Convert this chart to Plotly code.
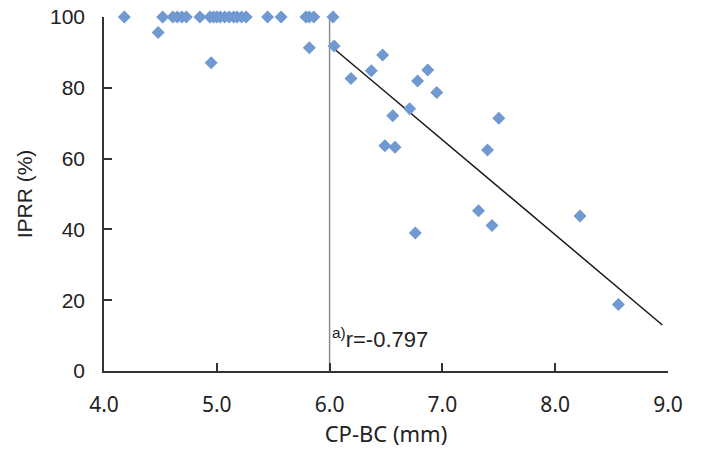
import plotly.graph_objects as go

# Data
cpbc = [4.18, 4.52, 4.61, 4.65, 4.69, 4.73, 4.85, 4.94, 4.97, 5.00, 5.03, 5.07,
        5.11, 5.15, 5.18, 5.22, 5.26, 5.45, 5.57, 5.79, 5.82, 5.86, 6.03,
        4.48, 4.95, 5.82, 6.04, 6.19, 6.47, 6.37, 6.87, 6.78, 6.95, 6.71,
        6.56, 7.50, 6.49, 6.58, 7.40, 7.32, 7.44, 6.76, 8.22, 8.56]
iprr = [100] * 23 + [95.6, 87.1, 91.3, 91.8, 82.6, 89.3, 84.8, 85.0, 81.9, 78.7, 74.1,
                     72.1, 71.4, 63.6, 63.2, 62.4, 45.3, 41.1, 39.0, 43.8, 18.8]
trend_x = [6.0, 8.95]
trend_y = [92.1, 13.0]
cutoff_x = [6.0, 6.0]
cutoff_y = [0, 100]
x_ticks = [4, 5, 6, 7, 8, 9]
x_tick_labels = ["4.0", "5.0", "6.0", "7.0", "8.0", "9.0"]
y_ticks = [0, 20, 40, 60, 80, 100]
annotation_text = "<sup>a)</sup>r=-0.797"

fig = go.Figure()
fig.add_trace(go.Scatter(x=cutoff_x, y=cutoff_y, mode="lines",
                         line=dict(color="#8c8c8c", width=1.5), hoverinfo="skip",
                         cliponaxis=False))
fig.add_trace(go.Scatter(x=trend_x, y=trend_y, mode="lines",
                         line=dict(color="#1a1a1a", width=1.5), hoverinfo="skip"))
fig.add_trace(go.Scatter(x=cpbc, y=iprr, mode="markers",
                         marker=dict(symbol="diamond", size=10, color="#6f99d0",
                                     line=dict(width=0)),
                         cliponaxis=False))

fig.add_annotation(x=6.0, y=9.3, xref="x", yref="y", text=annotation_text,
                   showarrow=False, xanchor="left", yanchor="middle",
                   font=dict(family="Liberation Sans, Arial", size=22, color="#222"))

fig.update_layout(
    width=724, height=454,
    margin=dict(l=104, r=56, t=17, b=83),
    paper_bgcolor="white", plot_bgcolor="white",
    showlegend=False,
    xaxis=dict(range=[4, 9], tickvals=x_ticks, ticktext=x_tick_labels,
               automargin=False, ticklabeloverflow="allow",
               showgrid=False, zeroline=False, showline=True,
               linecolor="#333", linewidth=1.5,
               ticks="inside", ticklen=8, tickwidth=1.5, tickcolor="#333",
               ticklabelstandoff=14,
               tickfont=dict(family="Noto Sans", size=21, color="#222"),
               title=dict(text="CP-BC (mm)", standoff=8,
                          font=dict(family="Noto Sans", size=22, color="#222"))),
    yaxis=dict(range=[0, 100], tickvals=y_ticks,
               automargin=False, ticklabeloverflow="allow",
               showgrid=False, zeroline=False, showline=True,
               linecolor="#333", linewidth=1.5,
               ticks="inside", ticklen=8, tickwidth=1.5, tickcolor="#333",
               ticklabelstandoff=13,
               tickfont=dict(family="Liberation Sans, Arial", size=21, color="#222"),
               title=dict(text="IPRR (%)", standoff=12,
                          font=dict(family="Liberation Sans, Arial", size=21, color="#222"))),
)

# remove the browser's default 8px body margin so the figure fills the window exactly
fig.write_html("out.html",
               config={"displayModeBar": False},
               post_script="document.body.style.margin='0px';document.body.style.overflow='hidden';")
